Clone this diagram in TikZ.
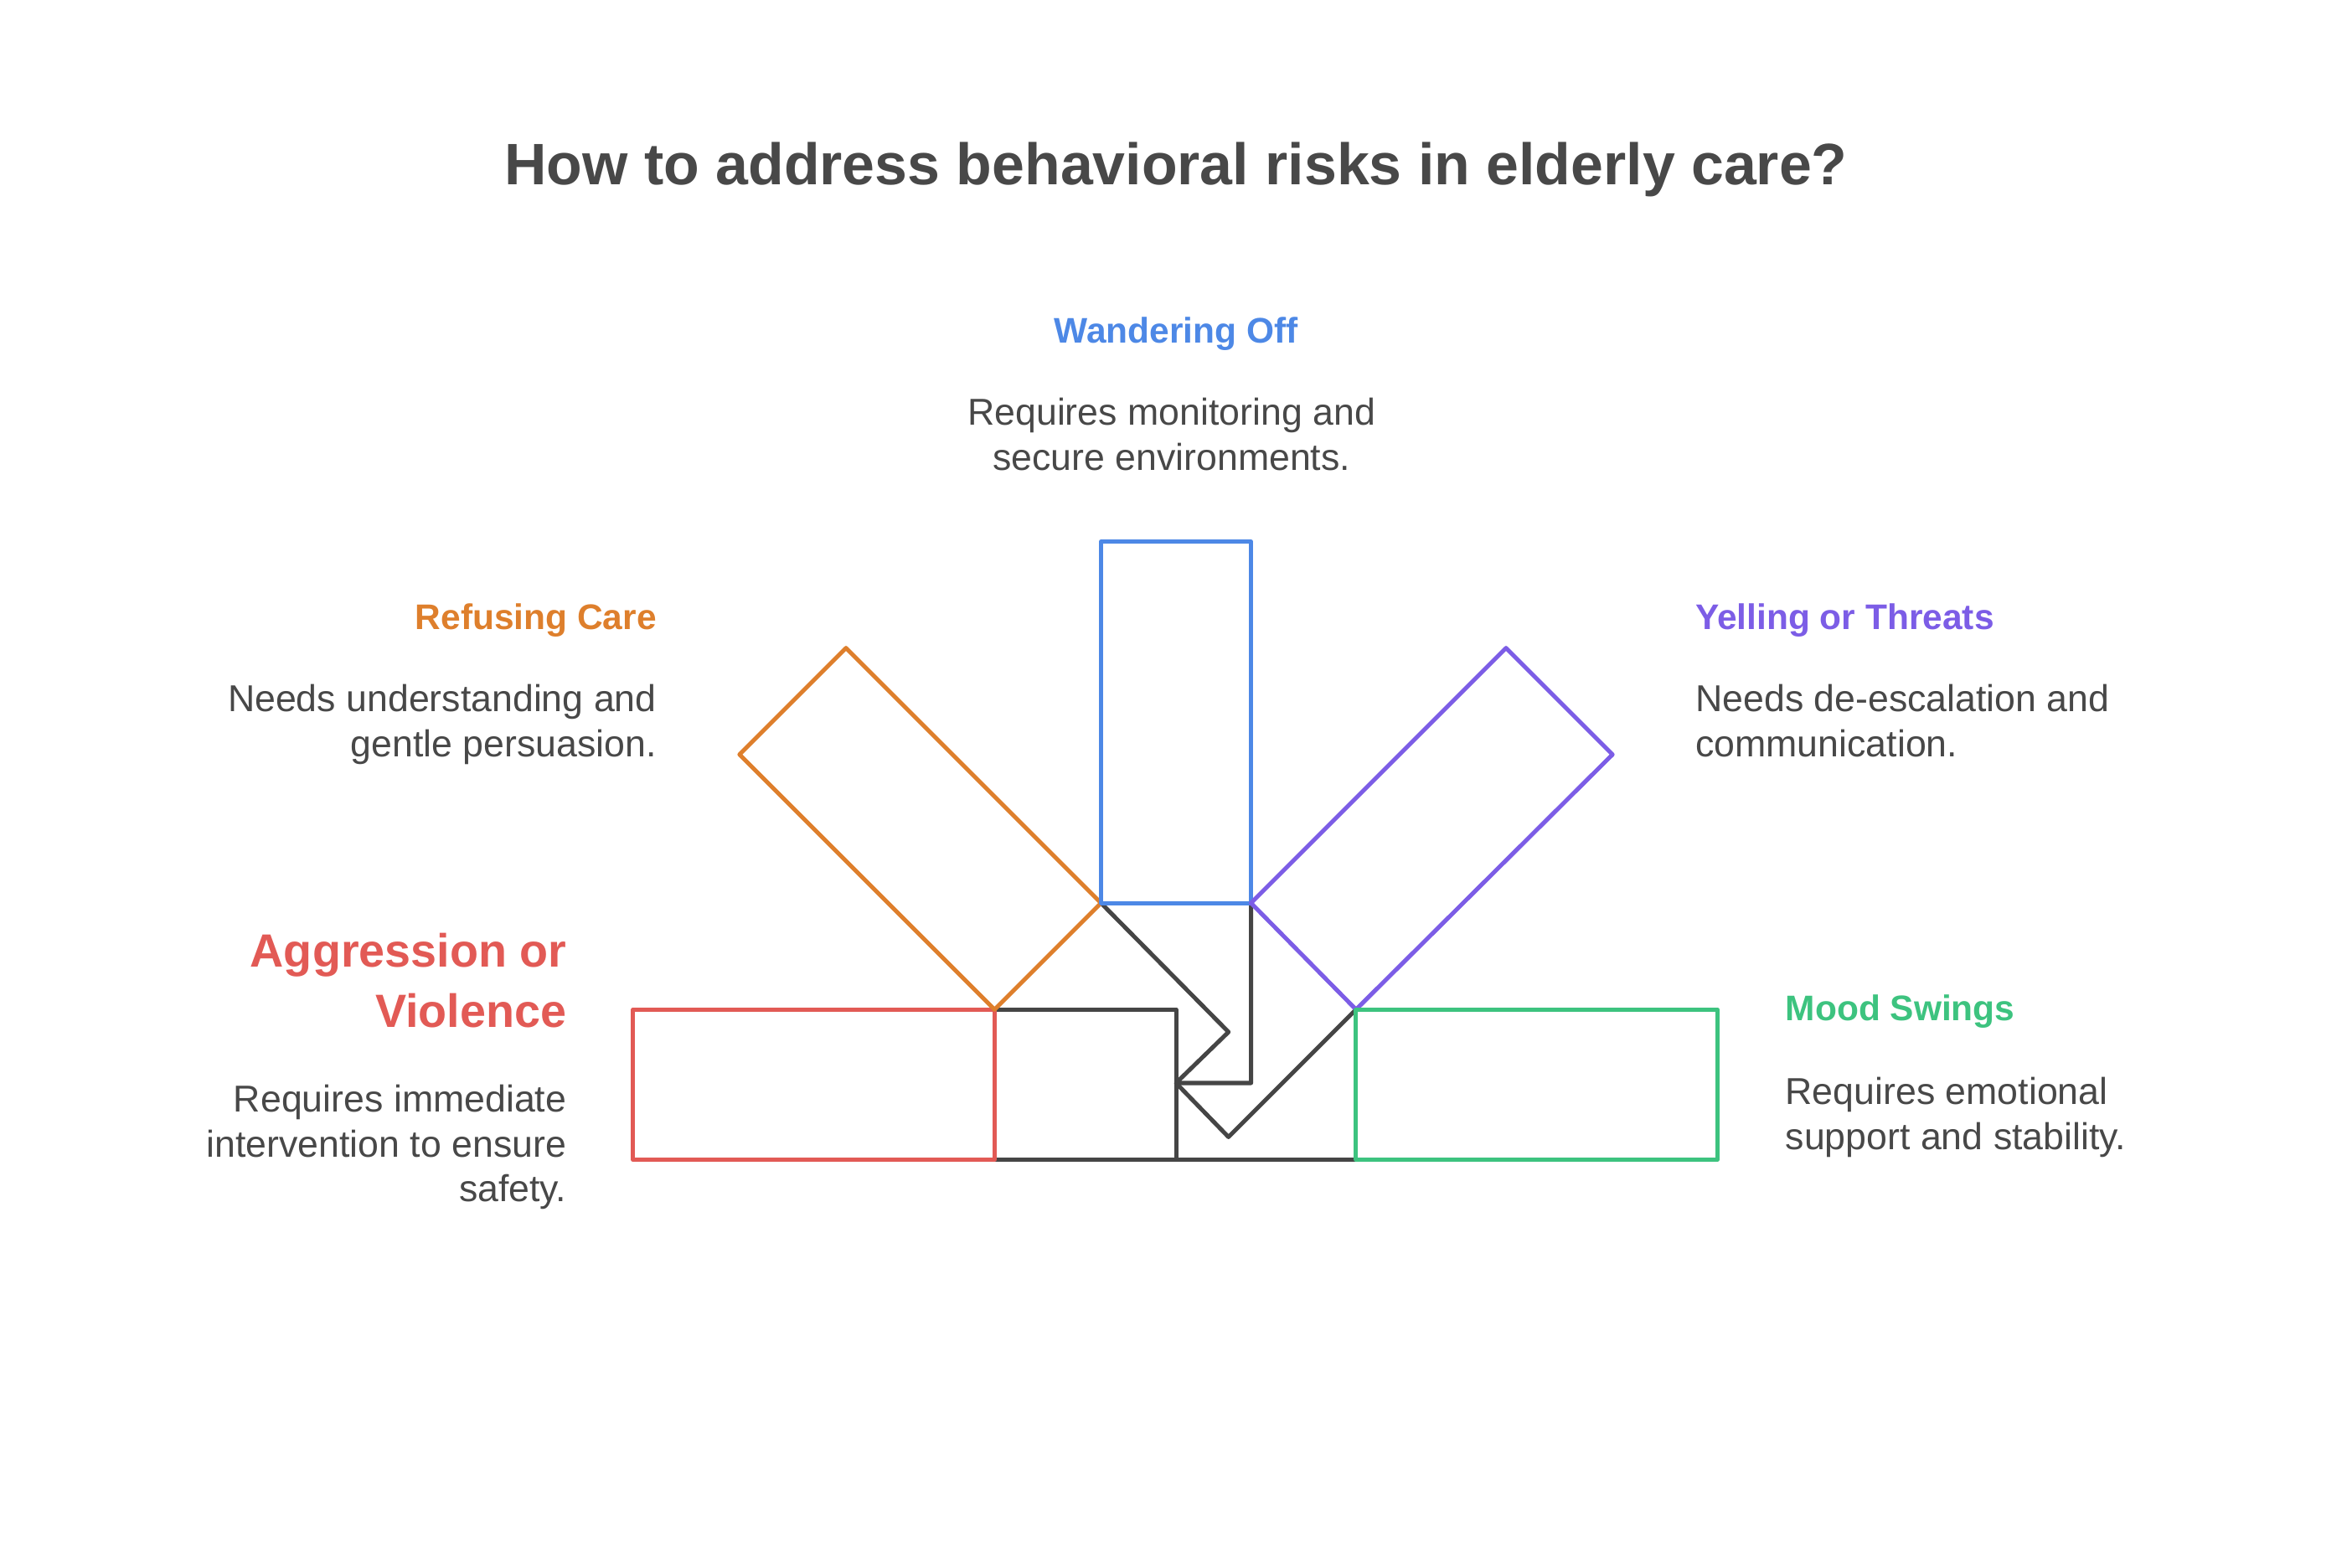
\documentclass[tikz,border=0pt]{standalone}
\usepackage{fontspec}
\setmainfont{Liberation Sans}
\usetikzlibrary{positioning}

\definecolor{txtgray}{HTML}{484848}
\definecolor{linegray}{HTML}{454545}
\definecolor{wanderblue}{HTML}{4D88E6}
\definecolor{refuseorange}{HTML}{DE7F2C}
\definecolor{yellpurple}{HTML}{7C5DE6}
\definecolor{aggrred}{HTML}{E25A55}
\definecolor{moodgreen}{HTML}{3DC37F}

\begin{document}
\begin{tikzpicture}[x=0.02cm,y=-0.02cm,
  shape line/.style={line width=1.6pt, line join=round},
  head/.style={font=\bfseries\fontsize{13.5}{17}\selectfont, inner sep=0pt},
  desc/.style={font=\fontsize{14.2}{17}\selectfont, text=txtgray, inner sep=0pt}]

\useasboundingbox (0,0) rectangle (1568,1045);

% title
  \node[font=\bfseries\fontsize{22.2}{26}\selectfont, text=txtgray, inner sep=0pt]
    (title) at (784,113) {How to address behavioral risks in elderly care?};

% corners of the fan
  \coordinate (p1) at (663,673);
  \coordinate (p2) at (734,602);
  \coordinate (p3) at (834,602);
  \coordinate (p4) at (904,673);
  \coordinate (c)  at (784,722);

% grey hidden parts
  \draw[shape line, linegray] (p1) -- (784,673) -- (784,773);
  \draw[shape line, linegray] (663,773) -- (904,773);
  \draw[shape line, linegray] (p2) -- (819,688) -- (c) -- (834,722) -- (p3);
  \draw[shape line, linegray] (c) -- (819,758) -- (p4);

% the five boxes
  \draw[shape line, aggrred] (422,673) rectangle (663,773);
  \draw[shape line, refuseorange] (p1) -- (493,503) -- (564,432) -- (p2) -- cycle;
  \draw[shape line, wanderblue] (734,361) rectangle (834,602);
  \draw[shape line, yellpurple] (p3) -- (1004,432) -- (1075,503) -- (p4) -- cycle;
  \draw[shape line, moodgreen] (904,673) rectangle (1145,773);

% labels
  \node[head, text=wanderblue, anchor=north] (wander) at (784,211) {Wandering Off};
  \node[desc, align=center, anchor=north] (wanderd) at (781,265)
    {Requires monitoring and\\secure environments.};

  \node[head, text=refuseorange, anchor=north east] (refuse) at (438,402) {Refusing Care};
  \node[desc, align=right, anchor=north east] (refused) at (438,456)
    {Needs understanding and\\gentle persuasion.};

  \node[head, text=yellpurple, anchor=north west] (yell) at (1130,402) {Yelling or Threats};
  \node[desc, align=left, anchor=north west] (yelld) at (1130,456)
    {Needs de-escalation and\\communication.};

  \node[font=\bfseries\fontsize{17.7}{22.8}\selectfont, text=aggrred, inner sep=0pt,
    align=right, anchor=north east] (aggr) at (378,622) {Aggression or\\Violence};
  \node[desc, align=right, anchor=north east] (aggrd) at (378,723)
    {Requires immediate\\intervention to ensure\\safety.};

  \node[head, text=moodgreen, anchor=north west] (mood) at (1190,663) {Mood Swings};
  \node[desc, align=left, anchor=north west] (moodd) at (1190,718)
    {Requires emotional\\support and stability.};

\end{tikzpicture}
\end{document}
